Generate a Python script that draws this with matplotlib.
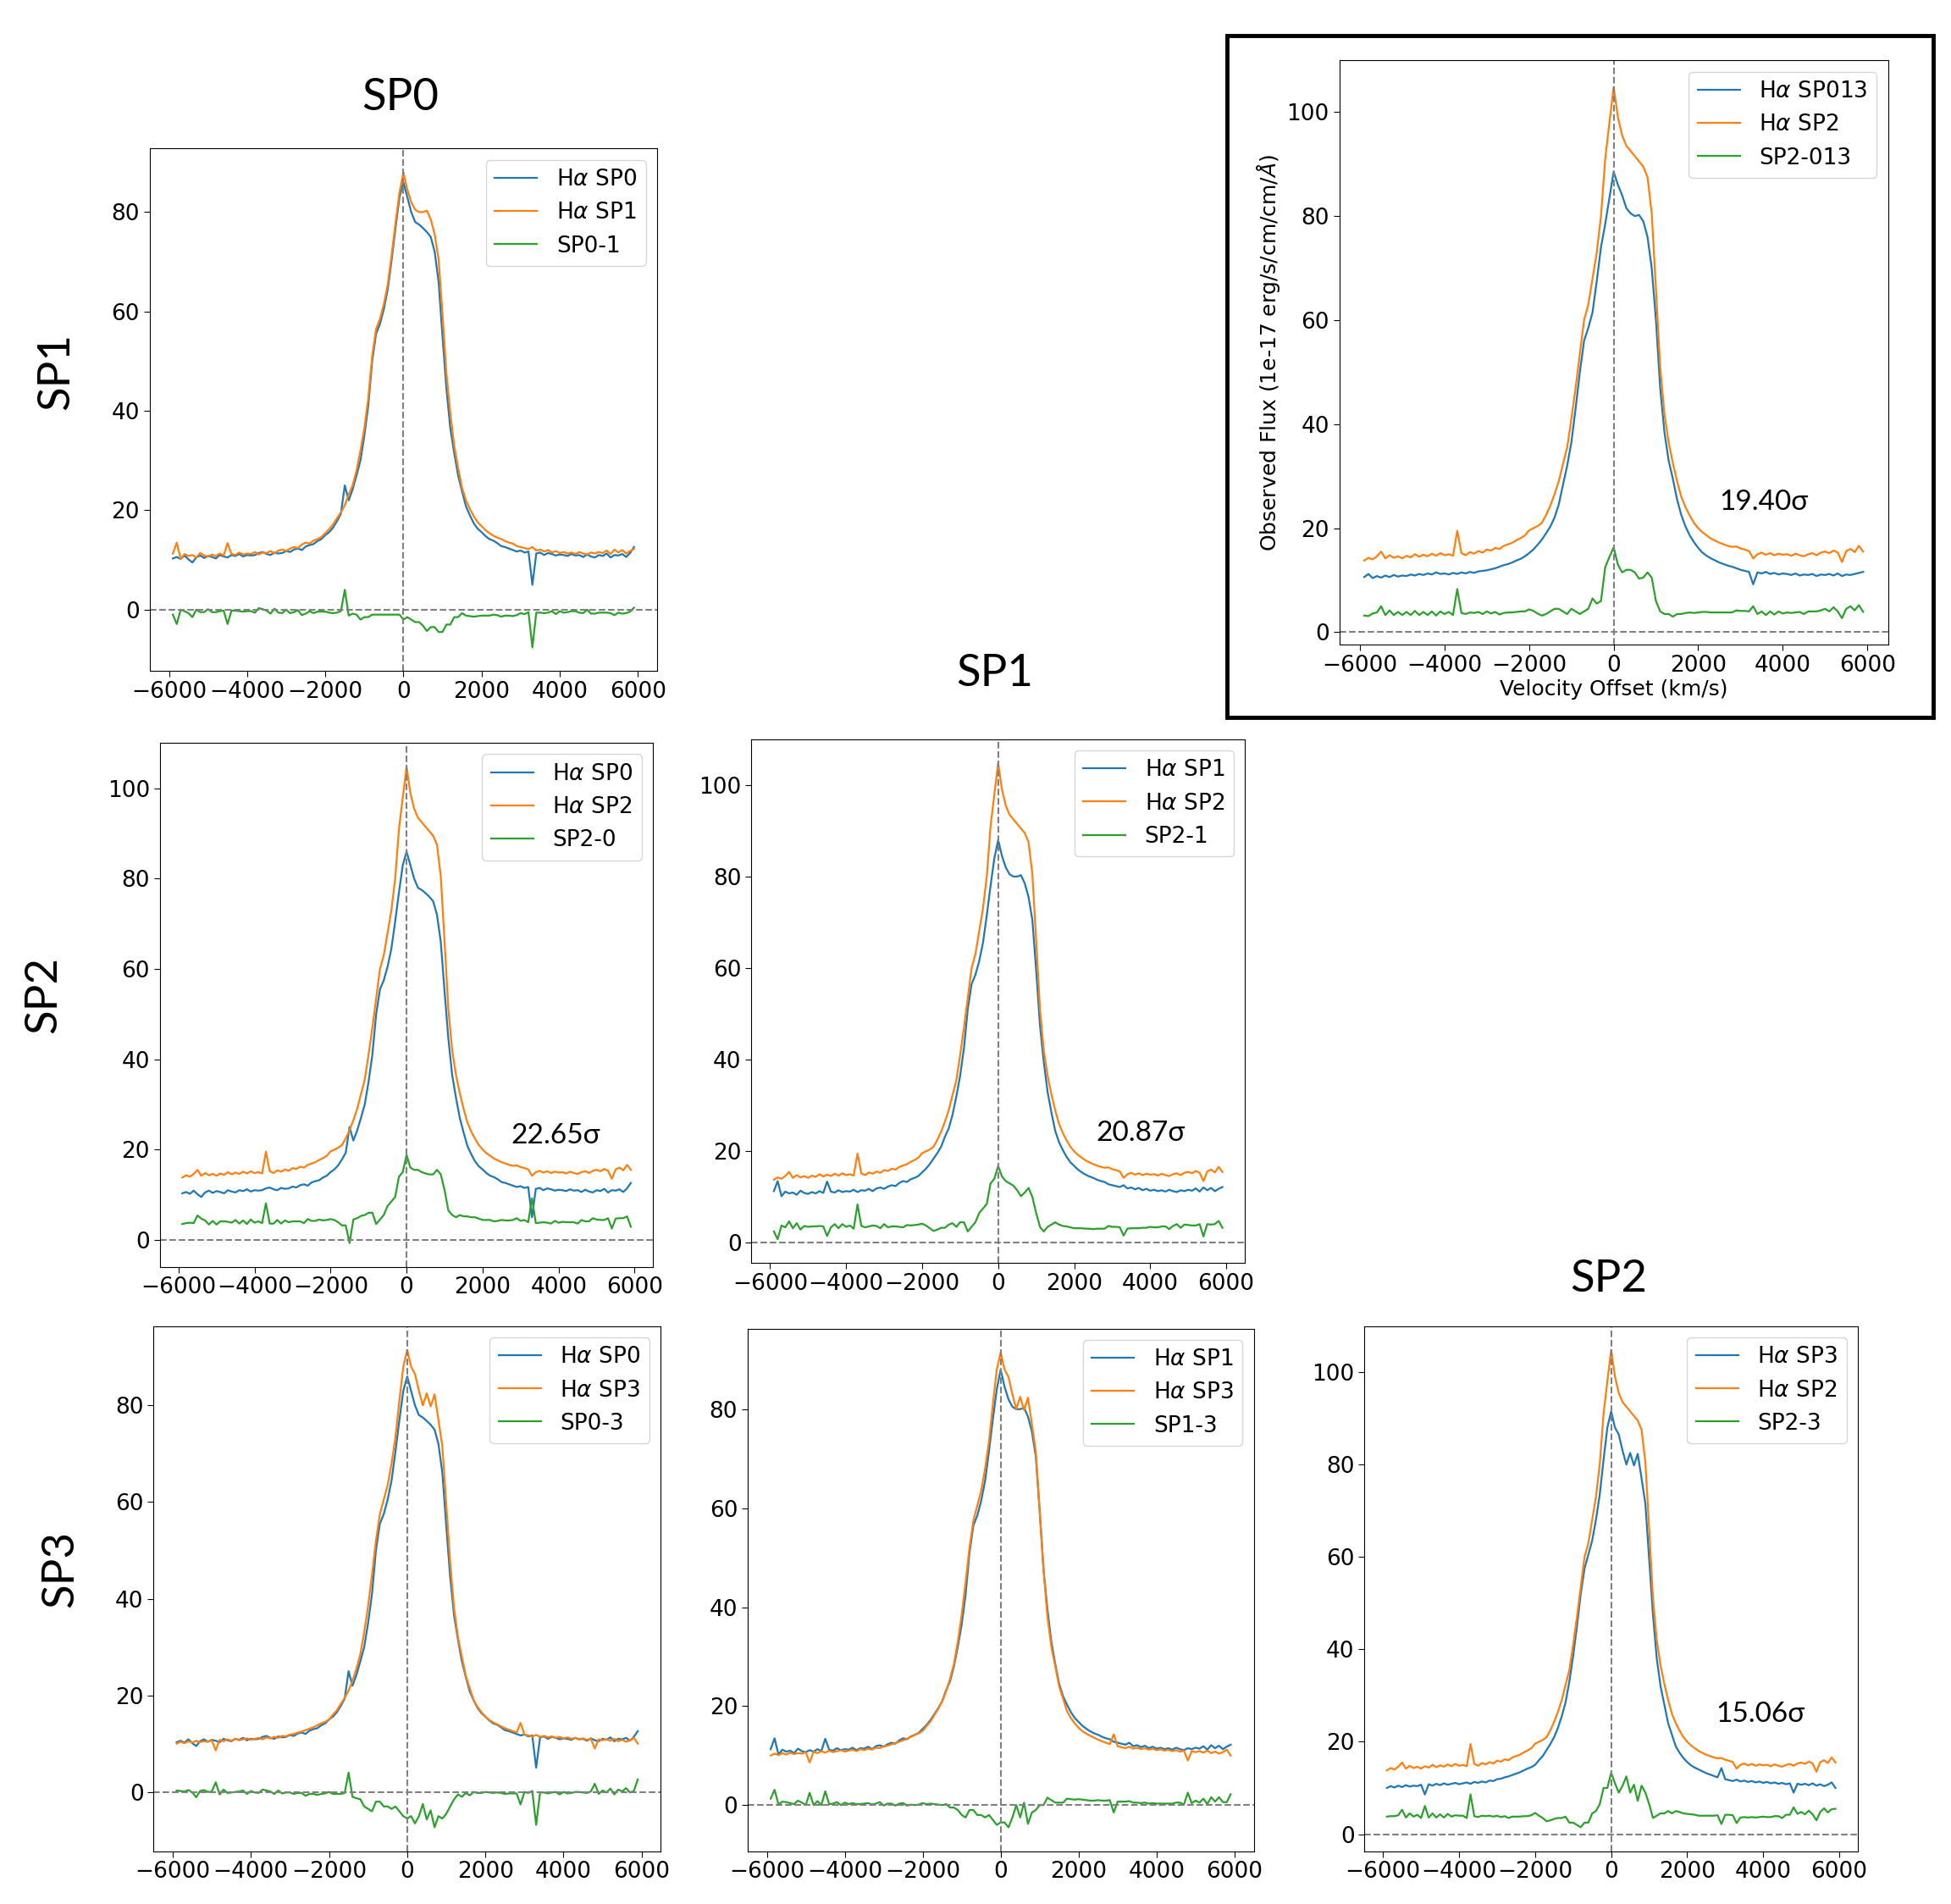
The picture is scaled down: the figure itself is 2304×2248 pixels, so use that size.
import numpy as np
import matplotlib
matplotlib.use("Agg")
import matplotlib.pyplot as plt
from matplotlib.patches import Rectangle

# velocity grid of the resampled spectra (km/s)
velocity = np.arange(-5900, 5901, 100)

# H-alpha flux per spectrum, 1e-17 erg/s/cm/cm/A
sp0 = [10.3, 10.6, 10.2, 10.9, 10.1, 9.5, 10.5, 10.9, 10.4, 10.8,
       10.6, 10.3, 11.0, 10.7, 10.5, 11.0, 10.8, 11.2, 10.7, 11.0,
       10.9, 11.0, 11.4, 11.6, 11.2, 11.0, 11.5, 11.3, 11.4, 11.8,
       11.6, 12.1, 12.3, 12.0, 12.7, 13.0, 13.2, 13.8, 14.2, 15.0,
       15.6, 16.5, 17.8, 19.3, 25.0, 22.0, 24.2, 27.0, 30.0, 35.0,
       41.0, 50.0, 55.5, 57.5, 60.5, 64.5, 70.5, 77.0, 83.0, 86.0,
       83.0, 80.0, 78.0, 77.5, 76.8, 76.0, 75.0, 72.0, 66.0, 55.0,
       44.5, 36.5, 31.5, 27.0, 23.8, 20.8, 19.0, 17.4, 16.3, 15.6,
       14.8, 14.2, 13.9, 13.4, 12.8, 12.6, 12.3, 12.0, 11.7, 11.9,
       11.5, 11.7, 5.0, 11.3, 11.5, 11.0, 11.4, 11.2, 10.9, 11.1,
       11.0, 10.8, 11.2, 10.9, 11.0, 10.6, 11.1, 10.7, 10.5, 11.0,
       10.8, 11.3, 10.5, 11.0, 10.9, 11.2, 10.6, 11.4, 12.6]

sp1 = [11.3, 13.5, 10.2, 11.2, 10.8, 11.0, 10.5, 11.4, 10.9, 10.7,
       11.1, 10.8, 11.3, 10.9, 13.4, 11.2, 11.0, 11.5, 11.1, 11.3,
       11.2, 11.6, 11.1, 11.5, 11.4, 11.8, 11.3, 11.9, 12.1, 11.8,
       12.3, 12.6, 12.4, 13.1, 13.5, 13.3, 13.9, 14.2, 14.6, 15.4,
       16.2, 17.2, 18.4, 19.6, 21.0, 23.2, 25.0, 28.0, 32.0, 36.5,
       42.5, 51.0, 56.5, 58.5, 61.5, 65.5, 71.5, 78.0, 84.0, 88.0,
       84.5, 82.0, 80.5, 80.0, 80.0, 80.3, 78.5, 75.5, 70.5, 59.5,
       47.5, 39.5, 33.0, 28.5, 24.5, 22.0, 20.3, 18.8, 17.6, 16.8,
       16.0, 15.4, 14.9, 14.5, 14.2, 13.8, 13.5, 13.3, 12.8, 12.6,
       12.4, 12.2, 12.6, 11.9, 12.1, 11.7, 12.0, 11.5, 11.8, 11.4,
       11.6, 11.3, 11.5, 11.2, 11.6, 11.3, 11.1, 11.5, 11.3, 11.6,
       11.4, 11.9, 11.2, 12.1, 11.5, 12.0, 11.3, 11.8, 12.2]

sp2 = [13.8, 14.3, 14.0, 14.6, 15.5, 14.2, 14.8, 14.3, 14.6, 14.2,
       14.7, 14.4, 15.0, 14.5, 14.9, 14.6, 15.1, 14.7, 15.2, 14.8,
       15.0, 14.7, 19.5, 15.2, 14.8, 15.4, 15.1, 15.6, 15.3, 15.9,
       15.7, 16.2, 16.0, 16.6, 16.9, 17.2, 17.7, 18.1, 18.6, 19.6,
       20.0, 20.4, 21.0, 22.5, 24.3, 26.5, 29.0, 32.3, 35.5, 41.0,
       47.0, 53.5, 60.0, 63.0, 68.0, 73.0, 80.0, 91.0, 98.0, 104.8,
       99.0, 95.5, 93.5, 92.5, 91.5, 90.5, 89.5, 87.5, 80.5, 66.0,
       51.0, 42.0, 36.5, 32.5, 29.0, 26.0, 24.0, 22.4, 21.0, 20.0,
       19.2, 18.6, 18.0, 17.6, 17.2, 16.9, 16.6, 16.4, 16.5, 16.1,
       15.9, 15.6, 14.2, 15.0, 15.3, 14.9, 15.2, 14.8, 15.1, 14.9,
       15.0, 14.7, 15.1, 14.8, 14.6, 15.0, 15.2, 14.8, 15.3, 15.5,
       15.2, 15.7, 15.3, 13.5, 15.6, 16.0, 15.4, 16.6, 15.5]

sp3 = [10.0, 10.4, 10.1, 10.5, 10.2, 10.6, 10.3, 10.5, 10.4, 10.7,
       8.6, 10.8, 10.5, 10.9, 10.6, 11.0, 10.7, 10.9, 11.1, 10.8,
       11.0, 11.2, 10.9, 11.3, 11.1, 11.4, 11.2, 11.6, 11.5, 11.9,
       12.0, 12.3, 12.5, 12.8, 13.1, 13.4, 13.8, 14.2, 14.5, 15.0,
       16.0, 16.9, 18.2, 19.5, 21.0, 23.0, 25.5, 28.5, 33.0, 38.5,
       45.0, 52.0, 57.5, 60.5, 63.5, 68.0, 73.5, 81.0, 88.0, 91.5,
       88.0, 86.5, 83.0, 80.0, 82.5, 79.8, 82.3, 77.0, 71.5, 59.5,
       47.5, 38.0, 32.0, 28.0, 24.0, 21.5, 19.0, 17.6, 16.5, 15.6,
       14.9, 14.4, 14.0, 13.6, 13.2, 12.9, 12.6, 12.3, 14.3, 11.9,
       11.7, 11.5, 11.8, 11.4, 11.6, 11.3, 11.5, 11.2, 11.4, 11.1,
       11.3, 11.0, 11.2, 10.9, 11.1, 10.8, 11.0, 9.0, 10.9, 10.7,
       10.9, 10.6, 11.0, 10.5, 10.8, 10.4, 10.7, 11.2, 10.0]

sp013 = [10.6, 11.2, 10.4, 10.8, 10.5, 10.9, 10.6, 11.0, 10.7, 10.9,
         10.8, 11.1, 10.9, 11.2, 11.0, 11.3, 11.1, 11.5, 11.2, 11.3,
         11.1, 11.4, 11.2, 11.5, 11.3, 11.6, 11.4, 11.7, 11.8, 11.9,
         12.1, 12.3, 12.6, 12.9, 13.1, 13.4, 13.8, 14.1, 14.6, 15.2,
         15.9, 16.8, 17.8, 19.0, 20.3, 22.0, 24.5, 28.3, 32.0, 36.5,
         43.0, 50.0, 56.0, 58.5, 61.5, 67.5, 74.0, 78.5, 83.5, 88.5,
         86.0, 84.0, 81.5, 80.5, 80.0, 80.2, 79.0, 76.0, 70.0, 60.0,
         47.0, 38.5, 33.0, 29.5, 25.5, 22.5, 20.3, 18.6, 17.3, 16.2,
         15.3, 14.7, 14.2, 13.8, 13.4, 13.1, 12.8, 12.6, 12.3, 12.0,
         11.8, 11.6, 9.2, 11.5, 11.3, 11.6, 11.2, 11.4, 11.1, 11.3,
         11.2, 11.0, 11.3, 10.9, 11.1, 11.0, 11.2, 10.8, 11.1, 11.0,
         11.2, 10.9, 11.3, 10.8, 11.1, 11.0, 11.2, 11.4, 11.6]

spectra = {"SP0": sp0, "SP1": sp1, "SP2": sp2, "SP3": sp3, "SP013": sp013}

# (blue spectrum, orange spectrum, minuend, subtrahend, difference label, significance)
panel_pairs = [
    ("SP0", "SP1", "SP0", "SP1", "SP0-1", None),
    ("SP0", "SP2", "SP2", "SP0", "SP2-0", "22.65σ"),
    ("SP1", "SP2", "SP2", "SP1", "SP2-1", "20.87σ"),
    ("SP0", "SP3", "SP0", "SP3", "SP0-3", None),
    ("SP1", "SP3", "SP1", "SP3", "SP1-3", None),
    ("SP3", "SP2", "SP2", "SP3", "SP2-3", "15.06σ"),
    ("SP013", "SP2", "SP2", "SP013", "SP2-013", "19.40σ"),
]

col_titles = ["SP0", "SP1", "SP2"]
row_titles = ["SP1", "SP2", "SP3"]

W, H = 2304, 2248
fig = plt.figure(figsize=(W / 100, H / 100), dpi=100)


def frac_axes(x0, y0, x1, y1):
    # pixel box (top-left origin, reference image scale 1550x1512) -> axes
    return fig.add_axes([x0 / 1550, 1 - y1 / 1512, (x1 - x0) / 1550, (y1 - y0) / 1512])


boxes = [
    (119, 118, 522, 533),
    (127, 590, 519, 1006),
    (597, 587, 989, 1003),
    (122, 1053, 525, 1470),
    (594, 1055, 996, 1470),
    (1084, 1053, 1476, 1470),
    (1064, 48, 1500, 512),
]
sigma_pos = {"22.65σ": (2750, 23), "20.87σ": (2580, 24), "15.06σ": (2760, 26), "19.40σ": (2500, 25)}

label_font = ["Lato", "DejaVu Sans"]

for box, (b, o, m, s, dlab, sig) in zip(boxes, panel_pairs):
    ax = frac_axes(*box)
    fb = np.array(spectra[b])
    fo = np.array(spectra[o])
    diff = np.array(spectra[m]) - np.array(spectra[s])
    ax.plot(velocity, fb, color="tab:blue", lw=1.6, label=r"H$\alpha$ " + b)
    ax.plot(velocity, fo, color="tab:orange", lw=1.6, label=r"H$\alpha$ " + o)
    ax.plot(velocity, diff, color="tab:green", lw=1.6, label=dlab)
    ax.axvline(0, color="gray", ls="--", lw=1.5)
    ax.axhline(0, color="gray", ls="--", lw=1.5)
    ax.set_xticks([-6000, -4000, -2000, 0, 2000, 4000, 6000])
    ax.tick_params(labelsize=19, length=5)
    ax.legend(loc="upper right", fontsize=19, handlelength=1.9, handletextpad=0.85)
    if sig:
        ax.text(*sigma_pos[sig], sig, fontsize=24, family=label_font, va="center")
    if dlab == "SP2-013":
        ax.set_xlabel("Velocity Offset (km/s)", fontsize=18, labelpad=2)
        ax.set_ylabel(r"Observed Flux (1e-17 erg/s/cm/cm/$\AA$)", fontsize=18)

# frame around the combined panel
fig.patches.append(Rectangle((975 / 1550, 1 - 570 / 1512), (1536 - 975) / 1550, (570 - 28) / 1512,
                             transform=fig.transFigure, fill=False, edgecolor="black", lw=3.5))

for (x, y), t in zip([(318, 78), (790, 535), (1278, 1016)], col_titles):
    fig.text(x / 1550, 1 - y / 1512, t, fontsize=38, family=label_font, ha="center", va="center")
for (x, y), t in zip([(45, 295), (35, 790), (48, 1246)], row_titles):
    fig.text(x / 1550, 1 - y / 1512, t, fontsize=38, family=label_font, ha="center", va="center",
             rotation=90)

fig.savefig("out.png", dpi=100, facecolor="white")
